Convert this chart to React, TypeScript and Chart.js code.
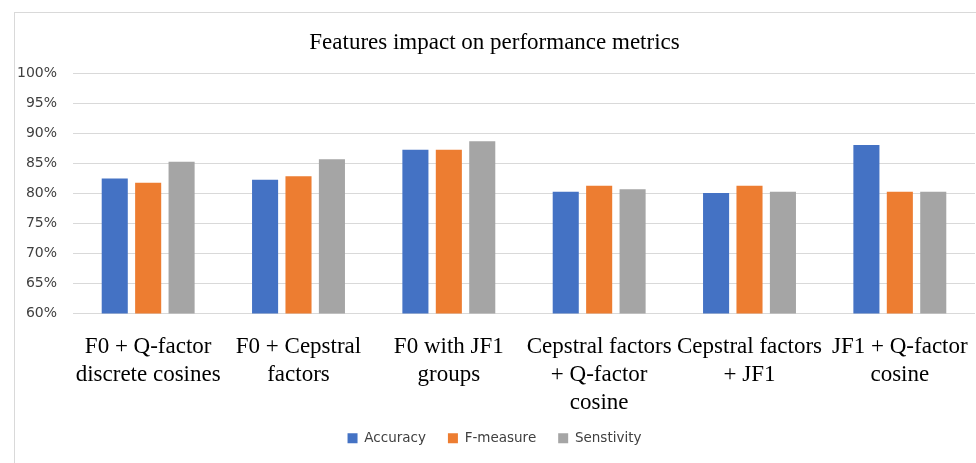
import React, { useEffect, useRef } from "react";
import { Chart, registerables } from "chart.js";

Chart.register(...registerables);

const categories: string[][] = [
  ["F0 + Q-factor", "discrete cosines"],
  ["F0 + Cepstral", "factors"],
  ["F0 with JF1", "groups"],
  ["Cepstral factors", "+ Q-factor", "cosine"],
  ["Cepstral factors", "+ JF1"],
  ["JF1 + Q-factor", "cosine"],
];

const accuracy = [82.5, 82.3, 87.3, 80.3, 80.1, 88.1];
const fMeasure = [81.8, 82.9, 87.3, 81.3, 81.3, 80.3];
const sensitivity = [85.3, 85.7, 88.7, 80.7, 80.3, 80.3];

const yTicks = [60, 65, 70, 75, 80, 85, 90, 95, 100];

const titleText = "Features impact on performance metrics";

export default function App() {
  const ref = useRef<HTMLCanvasElement | null>(null);

  useEffect(() => {
    if (!ref.current) return;
    const chart = new Chart(ref.current, {
      type: "bar",
      data: {
        labels: categories,
        datasets: [
          { label: "Accuracy", data: accuracy, backgroundColor: "#4472C4" },
          { label: "F-measure", data: fMeasure, backgroundColor: "#ED7D31" },
          { label: "Senstivity", data: sensitivity, backgroundColor: "#A5A5A5" },
        ],
      },
      options: {
        animation: false,
        responsive: false,
        maintainAspectRatio: false,
        layout: { autoPadding: false, padding: { left: 14, right: 1, top: 0, bottom: 8 } },
        datasets: {
          bar: { categoryPercentage: 0.667, barPercentage: 0.78 },
        },
        plugins: {
          title: {
            display: true,
            text: titleText,
            color: "#000",
            font: { family: "Liberation Serif", size: 23, weight: "normal", lineHeight: 1.2 },
            padding: { top: 29, bottom: 17 },
          },
          legend: {
            position: "bottom",
            labels: {
              boxWidth: 10,
              boxHeight: 10,
              padding: 22,
              color: "#404040",
              font: { family: "DejaVu Sans", size: 13.5 },
            },
          },
          tooltip: { enabled: false },
        },
        scales: {
          x: {
            grid: { display: false },
            border: { display: false },
            ticks: {
              color: "#000",
              maxRotation: 0,
              autoSkip: false,
              padding: 12,
              font: { family: "Liberation Serif", size: 23, lineHeight: 1.2 },
            },
            afterFit: (s: any) => {
              s.height = 96;
              s.paddingLeft = 0;
              s.paddingRight = 0;
            },
          },
          y: {
            min: 60,
            max: 100,
            afterBuildTicks: (s: any) => {
              s.ticks = yTicks.map((v) => ({ value: v }));
            },
            grid: { color: "#D9D9D9", drawTicks: false, lineWidth: 1 },
            border: { display: false },
            ticks: {
              color: "#404040",
              padding: 16,
              font: { family: "DejaVu Sans", size: 14 },
              callback: (v: any) => `${v}%`,
            },
            afterFit: (s: any) => {
              s.width = 59;
            },
          },
        },
      },
    });
    return () => chart.destroy();
  }, []);

  return (
    <div style={{ position: "absolute", left: 0, top: 0, width: 976, height: 463, background: "#fff", overflow: "hidden" }}>
      <div
        style={{
          position: "absolute",
          left: 14,
          top: 12,
          width: 970,
          height: 460,
          borderLeft: "1px solid #D9D9D9",
          borderTop: "1px solid #D9D9D9",
        }}
      />
      <canvas ref={ref} width={976} height={463} style={{ position: "absolute", left: 0, top: 0 }} />
    </div>
  );
}
